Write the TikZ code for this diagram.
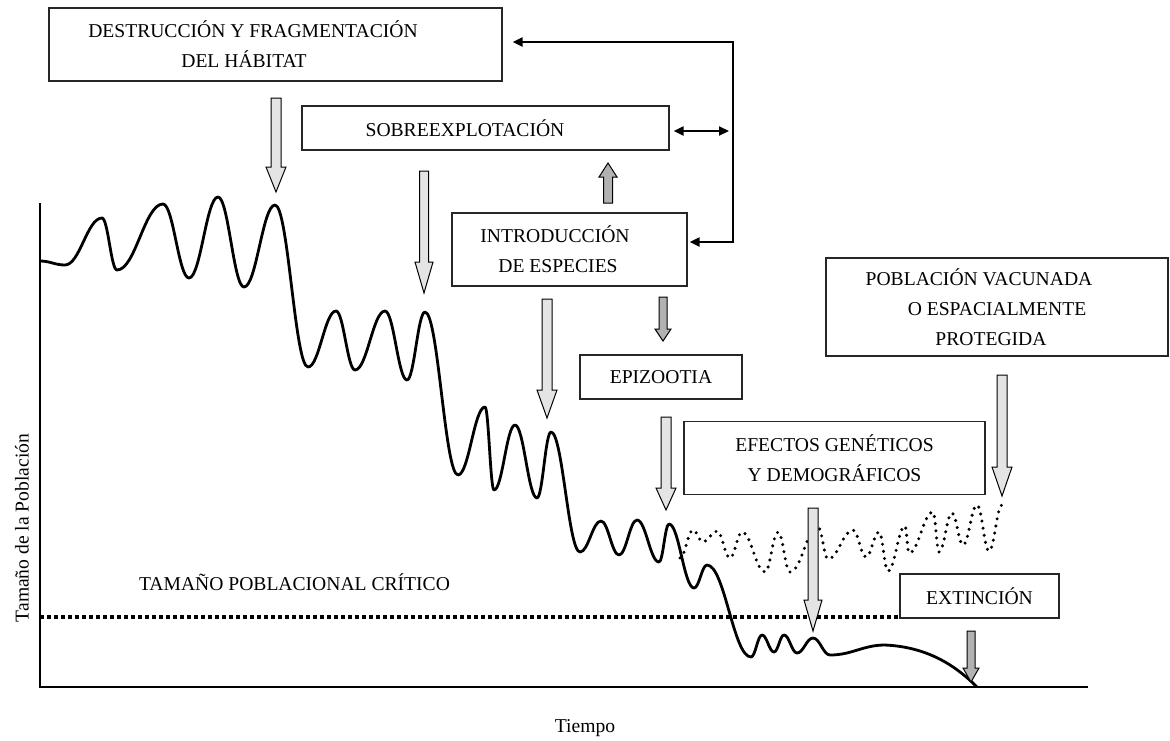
\documentclass[tikz,border=0pt]{standalone}
\usepackage{fontspec}
\setmainfont{Liberation Serif}
\usetikzlibrary{calc, arrows.meta, positioning}

\definecolor{lightgr}{HTML}{E4E4E4}
\definecolor{darkgr}{HTML}{B2B2B2}

\tikzset{
  box/.style={draw=black!85, line width=0.6pt, inner sep=0pt, align=center,
    font=\fontsize{9.8}{15}\selectfont},
  lbl/.style={font=\fontsize{9.8}{15}\selectfont},
  curve/.style={line width=1.4pt, line join=round},
  dotcurve/.style={line width=1.7pt, line cap=round, dash pattern=on 0pt off 3.6pt},
  critical/.style={line width=2pt, dash pattern=on 2pt off 1.5pt},
  fb/.style={line width=1pt,
    {Triangle[length=5pt,width=4.5pt]}-{Triangle[length=5pt,width=4.5pt]}},
  blk/.style={draw=black, line width=0.5pt, line join=miter},
}

\begin{document}
\begin{tikzpicture}[x=0.5pt, y=-0.5pt]
        \useasboundingbox (0,0) rectangle (1170,740);

        % ejes
        \coordinate (origen) at (40,687);
        \coordinate (ytop) at (40,203);
        \coordinate (xend) at (1088,687);
        \draw[line width=0.7pt] (ytop) -- (origen) -- (xend);
        \node[lbl, rotate=90] (ylab) at (22,528) {Tamaño de la Población};
        \node[lbl] (xlab) at (585,728) {Tiempo};

        % cajas
        \node[box, minimum width=226.5pt, minimum height=36.5pt] (habitat) at (275.5,44.5)
            {DESTRUCCIÓN Y FRAGMENTACIÓN\hspace*{22.5pt}\\DEL HÁBITAT\hspace*{31.5pt}};
        \node[box, minimum width=183.5pt, minimum height=22pt] (sobre) at (485.5,128)
            {SOBREEXPLOTACIÓN\hspace*{20.5pt}};
        \node[box, minimum width=117.5pt, minimum height=36.5pt] (intro) at (569.5,249.5)
            {INTRODUCCIÓN\hspace*{14.5pt}\\DE ESPECIES\hspace*{11.5pt}};
        \node[box, minimum width=81pt, minimum height=22pt] (epizootia) at (661,377)
            {EPIZOOTIA};
        \node[box, minimum width=150.5pt, minimum height=36.5pt] (efectos) at (834.5,458)
            {EFECTOS GENÉTICOS\\Y DEMOGRÁFICOS};
        \node[box, minimum width=171pt, minimum height=49pt] (vacunada) at (997,307)
            {POBLACIÓN VACUNADA\hspace*{18pt}\\O ESPACIALMENTE\hspace*{14pt}\\PROTEGIDA\hspace*{6pt}};
        \node[box, minimum width=79.5pt, minimum height=22pt] (extincion) at (979.5,596)
            {EXTINCIÓN};

        % retroalimentacion
        \coordinate (fbTop) at (733,42);
        \coordinate (fbBot) at (733,242);
        \coordinate (fbMid) at (729,131);
        \draw[fb] ([xshift=5pt]habitat.east |- fbTop) -- (fbTop) -- (fbBot) -- ([xshift=1pt]intro.east |- fbBot);
        \draw[fb] ([xshift=2pt]sobre.east |- fbMid) -- (fbMid);

        % tamaño critico
        \coordinate (critL) at (40,617);
        \draw[critical] (critL) -- (critL -| extincion.west);
        \node[lbl, anchor=west] (critico) at (132,582) {TAMAÑO POBLACIONAL CRÍTICO};

        % poblacion protegida
        \draw[dotcurve] (680,558) foreach \x/\y [remember=\x as \lx (initially 680), remember=\y as \ly (initially 558)]
            in {693/530, 703/542, 717/531, 730/558, 742/532, 765/572, 778/532, 790/572, 818/527, 828/559,
                853/530, 866/557, 879/532, 888/571, 905/526, 909/553, 933/512, 939/552, 952/513, 963/545,
                977/505, 989/551, 1002/505}
            { .. controls ({\lx+0.4*(\x-\lx)},\ly) and ({\x-0.4*(\x-\lx)},\y) .. (\x,\y) };

        % poblacion
        \draw[curve] (40,261) foreach \x/\y [remember=\x as \lx (initially 40), remember=\y as \ly (initially 261)]
            in {65/265, 102/218, 117/270, 163/204, 189/278, 218/197, 244/287, 275/205, 308/367, 336/311,
                355/370, 385/311, 407/380, 425/312, 458/475, 485/407, 494/490, 515/425, 537/498, 551/432,
                580/552, 601/521, 619/555, 637/520, 659/562, 669/524, 694/588, 707/565, 751/657, 762/635,
                774/652, 784/635, 797/653, 813/638, 830/655, 885/645}
            { .. controls ({\lx+0.4*(\x-\lx)},\ly) and ({\x-0.4*(\x-\lx)},\y) .. (\x,\y) }
            .. controls (930,647) and (958,668) .. (977,687);

        % flechas
        \foreach \x/\ya/\yb/\yc/\s/\h/\c in {276/98/167/192/5/10/lightgr, 424/171/262/293/4.5/9/lightgr,
                608/203/177/163/4.5/9/darkgr, 663/297/329/341/4/8/darkgr, 547/299/390/418/5/10/lightgr,
                666/417/488/510/5/10/lightgr, 813/508/600/631/5/9/lightgr, 1002/375/467/496/5/10/lightgr,
                971/631/668/682/4/8/darkgr}
            \filldraw[blk, fill=\c] ({\x-\s},\ya) -- ({\x+\s},\ya) -- ({\x+\s},\yb) -- ({\x+\h},\yb)
                -- (\x,\yc) -- ({\x-\h},\yb) -- ({\x-\s},\yb) -- cycle;

\end{tikzpicture}
\end{document}
